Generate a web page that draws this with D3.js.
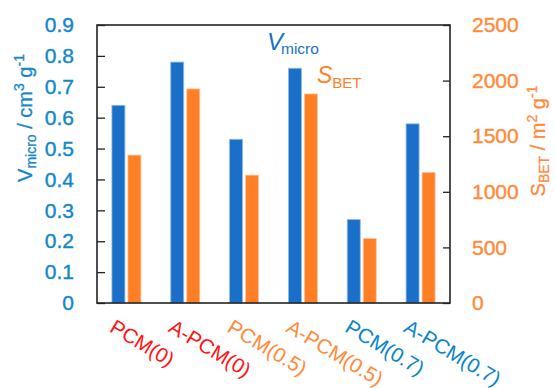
<!DOCTYPE html>
<html>
<head>
<meta charset="utf-8">
<script src="https://cdn.jsdelivr.net/npm/d3@7"></script>
<style>
  body { margin: 0; background: #fff; }
  text { font-family: "Liberation Sans", Arial, sans-serif; }
</style>
</head>
<body>
<script>
// 데이터
const samples = ["PCM(0)", "A-PCM(0)", "PCM(0.5)", "A-PCM(0.5)", "PCM(0.7)", "A-PCM(0.7)"];
const vmicro = [0.64, 0.78, 0.53, 0.76, 0.27, 0.58];
const sbet = [1330, 1925, 1150, 1880, 580, 1175];
const leftTicks = [0, 0.1, 0.2, 0.3, 0.4, 0.5, 0.6, 0.7, 0.8, 0.9];
const rightTicks = [0, 500, 1000, 1500, 2000, 2500];
const labelColors = ["#ff1414", "#ff1414", "#ff8a3a", "#ff8a3a", "#0a84c8", "#0a84c8"];

const width = 556, height = 388;
const plotLeft = 97, plotRight = 450, plotTop = 25, plotBottom = 303;

const colors = {
    vBar: "#1a70c8",
    sBar: "#ff7f27",
    vText: "#1587c9",
    sText: "#ff8a3a"
};

const svg = d3.select("body").append("svg")
    .attr("width", width)
    .attr("height", height);

const x = d3.scaleBand().domain(samples).range([plotLeft, plotRight]).padding(0);
const x1 = d3.scaleBand().domain(["v", "s"])
    .range([x.bandwidth() / 2 - 14.5, x.bandwidth() / 2 + 14.5])
    .paddingInner(0.1875);
const yL = d3.scaleLinear().domain([0, 0.9]).range([plotBottom, plotTop]);
const yR = d3.scaleLinear().domain([0, 2500]).range([plotBottom, plotTop]);

// 막대
const groups = svg.append("g").selectAll("g")
    .data(samples)
    .enter().append("g")
    .attr("transform", d => `translate(${x(d)},0)`);

groups.append("rect")
    .attr("x", x1("v"))
    .attr("width", x1.bandwidth())
    .attr("y", (d, i) => yL(vmicro[i]))
    .attr("height", (d, i) => plotBottom - yL(vmicro[i]))
    .style("fill", colors.vBar)
    .style("stroke", "#8fbbe8")
    .style("stroke-width", 0.8);

groups.append("rect")
    .attr("x", x1("s"))
    .attr("width", x1.bandwidth())
    .attr("y", (d, i) => yR(sbet[i]))
    .attr("height", (d, i) => plotBottom - yR(sbet[i]))
    .style("fill", colors.sBar)
    .style("stroke", "#ffc49a")
    .style("stroke-width", 0.8);

// 축
const leftAxis = svg.append("g")
    .attr("transform", `translate(${plotLeft},0)`)
    .call(d3.axisLeft(yL).tickValues(leftTicks).tickFormat(d3.format("~g"))
        .tickSizeInner(-8).tickSizeOuter(0).tickPadding(23));
leftAxis.select(".domain").remove();
leftAxis.selectAll("line").style("stroke", "#222").style("stroke-width", 1.3);
leftAxis.selectAll("text").style("font-size", "21px").style("fill", colors.vText)
    .style("stroke", colors.vText).style("stroke-width", 0.4);

const rightAxis = svg.append("g")
    .attr("transform", `translate(${plotRight},0)`)
    .call(d3.axisRight(yR).tickValues(rightTicks).tickFormat(d3.format("d"))
        .tickSizeInner(-7).tickSizeOuter(0).tickPadding(22));
rightAxis.select(".domain").remove();
rightAxis.selectAll("line").style("stroke", "#222").style("stroke-width", 1.3);
rightAxis.selectAll("text").style("font-size", "21px").style("fill", colors.sText)
    .style("stroke", colors.sText).style("stroke-width", 0.4);

// 테두리
svg.append("rect")
    .attr("x", plotLeft).attr("y", plotTop)
    .attr("width", plotRight - plotLeft).attr("height", plotBottom - plotTop)
    .style("fill", "none")
    .style("stroke", "#222")
    .style("stroke-width", 1.6);

// 축 제목
const lt = svg.append("text")
    .attr("transform", "translate(32,118) rotate(-90)")
    .attr("text-anchor", "middle")
    .style("font-size", "20px")
    .style("fill", colors.vText)
    .style("stroke", colors.vText).style("stroke-width", 0.3);
lt.append("tspan").text("V");
lt.append("tspan").attr("dy", 4).style("font-size", "14px").text("micro");
lt.append("tspan").attr("dy", -4).text(" / cm");
lt.append("tspan").attr("dy", -8).style("font-size", "14px").text("3");
lt.append("tspan").attr("dy", 8).text(" g");
lt.append("tspan").attr("dy", -8).style("font-size", "14px").text("-1");

const rt = svg.append("text")
    .attr("transform", "translate(545,141) rotate(-90)")
    .attr("text-anchor", "middle")
    .style("font-size", "20px")
    .style("fill", colors.sText)
    .style("stroke", colors.sText).style("stroke-width", 0.3);
rt.append("tspan").text("S");
rt.append("tspan").attr("dy", 4).style("font-size", "14px").text("BET");
rt.append("tspan").attr("dy", -4).text(" / m");
rt.append("tspan").attr("dy", -8).style("font-size", "14px").text("2");
rt.append("tspan").attr("dy", 8).text(" g");
rt.append("tspan").attr("dy", -8).style("font-size", "14px").text("-1");

// 범례
const lv = svg.append("text")
    .attr("x", 267).attr("y", 50)
    .style("fill", colors.vBar);
lv.append("tspan").style("font-size", "24px").style("font-style", "italic").text("V");
lv.append("tspan").attr("dx", -2).attr("dy", 4).style("font-size", "15.5px").text("micro");

const ls = svg.append("text")
    .attr("x", 317).attr("y", 83)
    .style("fill", colors.sBar);
ls.append("tspan").style("font-size", "23px").style("font-style", "italic").text("S");
ls.append("tspan").attr("dy", 5).style("font-size", "15px").text("BET");

// 카테고리 레이블
svg.append("g").selectAll("text")
    .data(samples)
    .enter().append("text")
    .attr("transform", d => `translate(${x(d) + x.bandwidth() / 2 - 18},331) rotate(31)`)
    .style("font-size", "20.5px")
    .style("fill", (d, i) => labelColors[i])
    .text(d => d);
</script>
</body>
</html>
